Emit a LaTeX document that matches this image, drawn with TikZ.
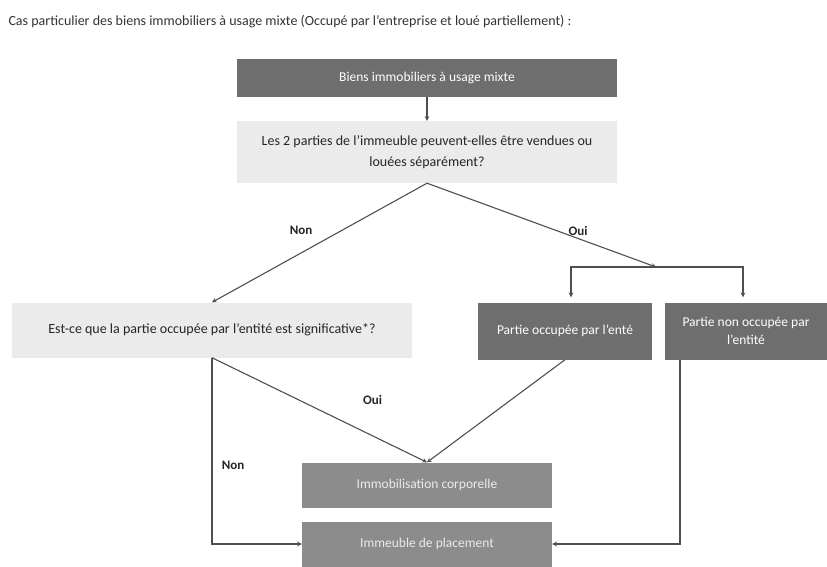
\documentclass[tikz,border=0pt]{standalone}
\usepackage{fontspec}
\setmainfont{Carlito}
\usetikzlibrary{arrows,shapes,calc}
\definecolor{darkgrey}{HTML}{6E6E6E}
\definecolor{midgrey}{HTML}{8C8C8C}
\definecolor{lightgrey}{HTML}{EBEBEB}
\definecolor{linegrey}{HTML}{4F4F4F}
\tikzstyle{darkbox}=[rectangle,fill=darkgrey,text=white,inner sep=2pt,align=center,font=\fontsize{13.5}{18}\selectfont]
\tikzstyle{midbox}=[rectangle,fill=midgrey,text=white!92!black,inner sep=2pt,align=center,font=\fontsize{13.5}{18}\selectfont]
\tikzstyle{lightbox}=[rectangle,fill=lightgrey,text=black!85,inner sep=2pt,align=center,font=\fontsize{14}{21}\selectfont]
\tikzstyle{edge} = [draw,line width=1.1pt,linegrey,-stealth]
\tikzstyle{answer} = [font=\bfseries\fontsize{13}{15}\selectfont,text=black!85]

\begin{document}
\begin{tikzpicture}[x=1pt,y=-1pt]

\useasboundingbox (0,0) rectangle (827,566);

\node[anchor=west,text=black!80,font=\fontsize{14}{16}\selectfont] (title) at (5,22)
    {Cas particulier des biens immobiliers à usage mixte (Occupé par l'entreprise et loué partiellement) :};

    % boxes
    \node[darkbox,minimum width=380pt,minimum height=38pt] (biens) at (427,78) {Biens immobiliers à usage mixte};
    \node[lightbox,minimum width=380pt,minimum height=62pt] (question) at (427,152)
        {Les 2 parties de l'immeuble peuvent-elles être vendues ou\\louées séparément?};
    \node[lightbox,minimum width=400pt,minimum height=55pt] (signif) at (212,330)
        {Est-ce que la partie occupée par l'entité est significative*?};

    \foreach \pos/ \name/ \boxw/ \txt in {{(565,331)/occ/174/{Partie occupée par l'enté}}, {(746,331)/nonocc/162/{Partie non occupée par\\l'entité}}}
        \node[darkbox,minimum width=\boxw pt,minimum height=57pt] (\name) at \pos {\txt};

    \foreach \pos/ \name/ \txt in {{(427,485)/corpo/{Immobilisation corporelle}}, {(427,544)/placement/{Immeuble de placement}}}
        \node[midbox,minimum width=250pt,minimum height=45pt] (\name) at \pos {\txt};

    \coordinate (split) at (656,267);

    % connect boxes
    \path[edge] (biens) -- (question);
    \path[edge] (question.south) -- node[answer,pos=0.45,left=14pt,yshift=6pt] {Non} (signif.north);
    \path[edge] (question.south) -- node[answer,pos=0.66,above=-1pt] {Oui} (split);
    \path[edge] (split) -| ([xshift=6pt,yshift=5pt]occ.north);
    \path[edge] (split) -| ([xshift=-3pt,yshift=5pt]nonocc.north);

    \path[edge] (signif.south) -- node[answer,pos=0.62,above right=14pt] {Oui} (corpo.north);
    \path[edge] (occ.south) -- (corpo.north);
    \path[edge] (signif.south) |- node[answer,pos=0.29,right=6pt] {Non} (placement.west);
    \path[edge] ([xshift=-66pt]nonocc.south) |- (placement.east);

\end{tikzpicture}
\end{document}
